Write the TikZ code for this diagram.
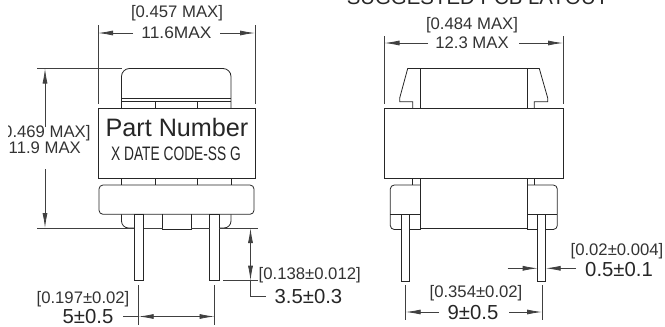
\documentclass[tikz,border=0pt]{standalone}
\usepackage{fontspec}
\setmainfont{Liberation Sans}
\usetikzlibrary{arrows.meta}

\tikzset{
  part/.style={draw=black!85,line width=0.8pt},
  dimline/.style={draw=black!75,line width=0.8pt},
  dimarrow/.style={dimline,-{Latex[length=15pt,width=5pt]}},
  dimboth/.style={dimline,{Latex[length=15pt,width=5pt]}-{Latex[length=15pt,width=5pt]}},
  dimsmall/.style={inner sep=0pt,text=black!80,font=\fontsize{16.7}{18}\selectfont},
  dimbig/.style={inner sep=0pt,text=black!85,font=\fontsize{20.3}{22}\selectfont}
}

\begin{document}
\begin{tikzpicture}[x=1pt,y=-1pt]
\useasboundingbox (0,0) rectangle (665,327);
\clip (8,0) rectangle (665,327);

%left view, width
\path[dimline] (98,25) -- (98,104);
\path[dimline] (255,25) -- (255,104);
\path[dimarrow] (133,33) -- (98,33);
\path[dimarrow] (220,33) -- (255,33);
\node[dimsmall] (widthinch) at (177,13) {[0.457 MAX]};
\node[dimsmall,xscale=1.04] (widthmm) at (176.5,33) {11.6MAX};

%left view, top
\path[part,rounded corners=8pt] (121.5,108) -- (121.5,68.5) -- (231,68.5) -- (231,108);
\path[part] (121.5,98) -- (231,98);
\path[part] (121.5,101) -- (231,101);
\path[part] (155,101) -- (155,108);
\path[part] (197.5,101) -- (197.5,108);

%left view, body
\draw[part] (98,108) rectangle (255,178.3);
\node[inner sep=0pt,text=black!85,font=\fontsize{25.2}{27}\selectfont] (partname) at (177,127) {Part Number};
\node[inner sep=0pt,text=black!85,xscale=0.706,font=\fontsize{19.5}{21}\selectfont] (datecode) at (176,154) {X DATE CODE-SS G};
\path[part] (121.5,178.3) -- (121.5,185);
\path[part] (155,178.3) -- (155,185);
\path[part] (197.5,178.3) -- (197.5,185);
\path[part] (231,178.3) -- (231,185);

%left view, base
\path[part,rounded corners=4pt] (99,214.3) -- (99,185) -- (254,185) -- (254,214.3) -- cycle;
\path[part,rounded corners=7pt] (121.5,214.3) -- (121.5,228) -- (134,228);
\path[part,rounded corners=7pt] (231,214.3) -- (231,228) -- (219,228);
\path[part] (162.5,214.3) -- (162.5,229.5) -- (191,229.5) -- (191,214.3);
\draw[part] (134,214.3) rectangle (143.5,280.7);
\draw[part] (209.7,214.3) rectangle (219,280.7);

%left view, height
\path[dimline] (37,68.5) -- (121.5,68.5);
\path[dimline] (37,228) -- (134,228);
\path[dimline] (143.5,228) -- (162.5,228);
\path[dimline] (191,228) -- (209.7,228);
\path[dimline] (219,228) -- (258,228);
\path[dimarrow] (45,127) -- (45,68.5);
\path[dimarrow] (45,169) -- (45,228);
\node[dimsmall,anchor=east] (heightinch) at (90.7,133) {[0.469 MAX]};
\node[dimsmall,anchor=east] (heightmm) at (81,148) {11.9 MAX};

%left view, pin length
\path[dimline] (223,280.7) -- (258,280.7);
\path[dimboth] (250.5,228) -- (250.5,280.7);
\path[dimline] (250.5,280.7) -- (250.5,296) -- (266,296);
\node[dimsmall,anchor=west] (lengthinch) at (258.5,275) {[0.138±0.012]};
\node[dimbig,anchor=west] (lengthmm) at (274.5,297) {3.5±0.3};

%left view, pin pitch
\path[dimline] (138.7,285) -- (138.7,325);
\path[dimline] (214.5,285) -- (214.5,325);
\path[dimline] (123,316.5) -- (138.7,316.5);
\path[dimboth] (138.7,316.5) -- (214.5,316.5);
\node[dimsmall] (pitchinch) at (83,299) {[0.197±0.02]};
\node[dimbig] (pitchmm) at (88,317) {5±0.5};

%right view, title and width
\node[inner sep=0pt,text=black!85,font=\fontsize{20.4}{22}\selectfont] (title) at (477.5,-2.3) {SUGGESTED PCB LAYOUT};
\path[dimline] (384.5,36) -- (384.5,104);
\path[dimline] (563,36) -- (563,104);
\path[dimarrow] (428,43) -- (384.5,43);
\path[dimarrow] (519,43) -- (563,43);
\node[dimsmall] (sidewidthinch) at (472,25) {[0.484 MAX]};
\node[dimsmall] (sidewidthmm) at (472,43) {12.3 MAX};

%right view, top
\path[part] (412.7,108) -- (412.7,101.7) -- (399.7,101.7) -- (399.7,98) -- (407.7,68.5) -- (539.3,68.5) -- (547.7,98) -- (547.7,101.7) -- (534.3,101.7) -- (534.3,108);
\path[part] (420,68.5) -- (420,108);
\path[part] (527.3,68.5) -- (527.3,108);

%right view, body
\draw[part] (384.5,108) rectangle (563,178.3);
\path[part] (412.7,178.3) -- (412.7,185);
\path[part] (534.3,178.3) -- (534.3,185);

%right view, base
\path[part] (420,178.3) -- (420,229.5);
\path[part] (527.3,178.3) -- (527.3,229.5);
\path[part] (420,228) -- (527.3,228);
\path[part,rounded corners=4pt] (420,185) -- (390.3,185) -- (390.3,229.5) -- (420,229.5);
\path[part,rounded corners=4pt] (527.3,185) -- (557.3,185) -- (557.3,229.5) -- (527.3,229.5);
\path[part] (390.3,214.3) -- (420,214.3);
\path[part] (527.3,214.3) -- (557.3,214.3);
\draw[part,fill=white] (401.7,214.3) rectangle (409.7,281);
\draw[part,fill=white] (537.7,214.3) rectangle (545.7,281);

%right view, pin width
\path[dimarrow] (507.7,268.3) -- (537.7,268.3);
\path[dimarrow] (576,268.3) -- (545.7,268.3);
\node[dimsmall] (pininch) at (617,251) {[0.02±0.004]};
\node[dimbig] (pinmm) at (619,270) {0.5±0.1};

%right view, pin pitch
\path[dimline] (405.7,285) -- (405.7,320);
\path[dimline] (542,285) -- (542,320);
\path[dimarrow] (439,312) -- (405.7,312);
\path[dimarrow] (509,312) -- (542,312);
\node[dimsmall] (spaninch) at (476,293) {[0.354±0.02]};
\node[dimbig] (spanmm) at (473,313) {9±0.5};

\end{tikzpicture}
\end{document}
